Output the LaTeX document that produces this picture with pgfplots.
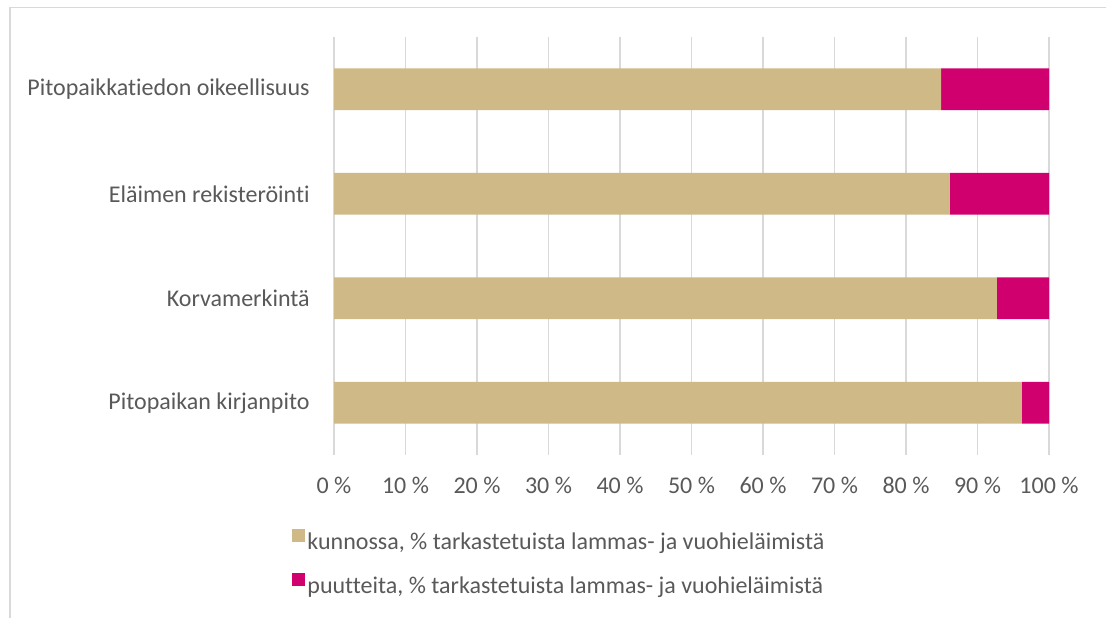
\documentclass[border=0pt]{standalone}
\usepackage{pgfplots}
\pgfplotsset{compat=1.18}
\usepackage{fontspec}
\setmainfont{Carlito}[Ligatures=NoCommon]
\definecolor{okc}{RGB}{207,185,135}
\definecolor{badc}{RGB}{208,0,111}
\definecolor{txtc}{RGB}{89,89,89}
\definecolor{gridc}{RGB}{217,217,217}

\begin{document}
\begin{tikzpicture}
\useasboundingbox (0pt,0pt) rectangle (553pt,-308.5pt);
% chart frame
\draw[gridc, line width=0.8pt] (5pt,-320pt) -- (5pt,-3.65pt) -- (570pt,-3.65pt);
\begin{axis}[
  at={(167pt,-227.5pt)}, anchor=south west,
  scale only axis, width=357.5pt, height=209pt,
  xbar stacked, bar width=20.8pt,
  xmin=0, xmax=100, ymin=0.5, ymax=4.5,
  axis line style={draw=none}, major tick length=0pt,
  xmajorgrids, grid style={gridc, line width=0.75pt},
  xtick={0,10,...,100},
  xticklabels={0 \%,10 \%,20 \%,30 \%,40 \%,50 \%,60 \%,70 \%,80 \%,90 \%,100 \%},
  ytick={1,2,3,4},
  yticklabels={Pitopaikan kirjanpito,Korvamerkintä,Eläimen rekisteröinti,Pitopaikkatiedon oikeellisuus},
  every tick label/.append style={font=\fontsize{12}{14}\selectfont, text=txtc},
  xticklabel style={anchor=north, inner sep=0pt, yshift=-11pt},
  yticklabel style={anchor=east, inner sep=0pt, xshift=-12pt},
  legend style={at={(-0.0587,-0.177)}, anchor=north west, draw=none, fill=none,
    font=\fontsize{12}{14}\selectfont, text=txtc, inner sep=0pt,
    row sep=9.5pt, legend cell align=left,
    nodes={inner sep=1pt}},
  legend image code/.code={\fill[#1] (0pt,0pt) rectangle (6.5pt,6.5pt);},
]
\addplot[fill=okc, draw=none] coordinates {(84.9,4) (86.1,3) (92.7,2) (96.2,1)};
\addplot[fill=badc, draw=none] coordinates {(15.1,4) (13.9,3) (7.3,2) (3.8,1)};
\legend{{kunnossa, \% tarkastetuista lammas- ja vuohieläimistä},{puutteita, \% tarkastetuista lammas- ja vuohieläimistä}}
\end{axis}
\end{tikzpicture}
\end{document}
